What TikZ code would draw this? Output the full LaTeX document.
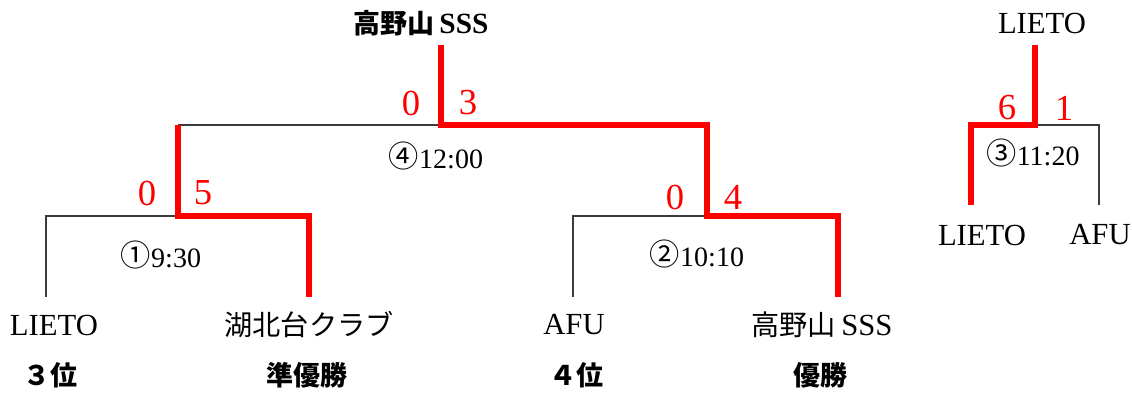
\documentclass[tikz,border=0pt]{standalone}
\usepackage{fontspec}
\setmainfont{Liberation Serif}
\newfontfamily\jp{Noto Sans CJK JP}[Scale=0.92]
\newfontfamily\jpc{Noto Sans CJK JP}[Scale=1.08]
\newcommand{\circnum}[1]{\raisebox{0.5pt}{\jpc #1}}
\definecolor{winred}{RGB}{255,0,0}
\definecolor{lose}{RGB}{60,60,60}
\begin{document}
\begin{tikzpicture}[x=0.75pt,y=-0.75pt,
  every node/.style={inner sep=0pt,outer sep=0pt},
  team/.style={font=\fontsize{23}{27}\selectfont},
  rank/.style={font=\fontsize{22}{26}\selectfont\jp\bfseries},
  score/.style={font=\fontsize{27.5}{32}\selectfont,text=winred},
  timelab/.style={font=\fontsize{21}{25}\selectfont,anchor=base},
  winline/.style={draw=winred,line width=3.8pt},
  loseline/.style={draw=lose,line width=0.9pt}]
\useasboundingbox (0,0) rectangle (1132,394);

% team names
\node[font=\fontsize{22}{26}\selectfont\bfseries] (champ) at (421,23) {{\jp 高野山}\,SSS};
\node[team] (t1) at (54,325) {LIETO};
\node[team] (t2) at (309,325) {\jp 湖北台クラブ};
\node[team] (t3) at (574,325) {AFU};
\node[team] (t4) at (822,325) {{\jp 高野山}\,SSS};
\node[team] (w3) at (1042,23) {LIETO};
\node[team] (t5) at (982,235) {LIETO};
\node[team] (t6) at (1100,235) {AFU};

% ranks
\node[rank] (r1) at (50,375) {３位};
\node[rank] (r2) at (307,375) {準優勝};
\node[rank] (r3) at (576,375) {４位};
\node[rank] (r4) at (820,375) {優勝};

% bracket coordinates
\coordinate (ftop) at (441,45);
\coordinate (fj) at (441,125);
\coordinate (fl) at (178,125);
\coordinate (fr) at (707,125);
\coordinate (s1j) at (178,216);
\coordinate (s1l) at (46,216);
\coordinate (s1r) at (309,216);
\coordinate (s1lb) at (46,297);
\coordinate (s1rb) at (309,297);
\coordinate (s2j) at (707,216);
\coordinate (s2l) at (573,216);
\coordinate (s2r) at (838,216);
\coordinate (s2lb) at (573,297);
\coordinate (s2rb) at (838,297);
\coordinate (ttop) at (1035,45);
\coordinate (tj) at (1035,125);
\coordinate (tl) at (971,125);
\coordinate (tr) at (1099,125);
\coordinate (tlb) at (971,205);
\coordinate (trb) at (1099,205);

% losing lines
\draw[loseline] (fl) -- (fj);
\draw[loseline] (s1lb) -- (s1l) -- (s1j);
\draw[loseline] (s2lb) -- (s2l) -- (s2j);
\draw[loseline] (tj) -- (tr) -- (trb);

% winning lines
\draw[winline] (ftop) -- (fj) -- (fr) -- (s2j) -- (s2r) -- (s2rb);
\draw[winline] (fl) -- (s1j) -- (s1r) -- (s1rb);
\draw[winline] (ttop) -- (tj) -- (tl) -- (tlb);

% scores
\node[score] (sc1) at (411,103) {0};
\node[score] (sc2) at (468,103) {3};
\node[score] (sc3) at (147,193) {0};
\node[score] (sc4) at (203,193) {5};
\node[score] (sc5) at (675,197) {0};
\node[score] (sc6) at (733,197) {4};
\node[score] (sc7) at (1007,108) {6};
\node[score] (sc8) at (1064,108) {1};

% times
\node[timelab] (m4) at (436,168) {\circnum{④}12:00};
\node[timelab] (m1) at (161,267) {\circnum{①}9:30};
\node[timelab] (m2) at (697,266) {\circnum{②}10:10};
\node[timelab] (m3) at (1033,165) {\circnum{③}11:20};
\end{tikzpicture}
\end{document}
